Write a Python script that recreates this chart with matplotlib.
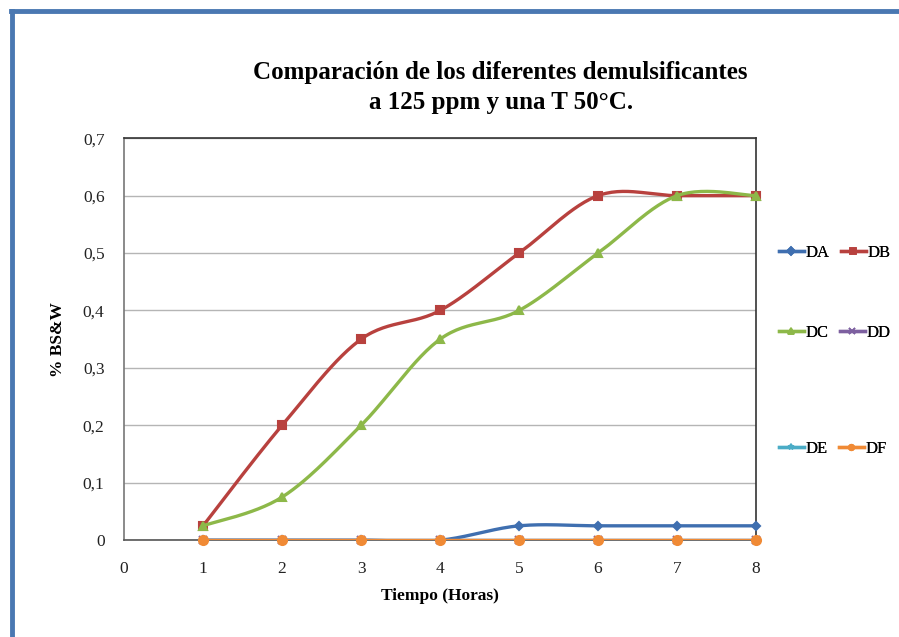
import numpy as np
import matplotlib
matplotlib.use("Agg")
import matplotlib.pyplot as plt
from matplotlib.lines import Line2D

# datos
horas = [1, 2, 3, 4, 5, 6, 7, 8]
DA = [0, 0, 0, 0, 0.025, 0.025, 0.025, 0.025]
DB = [0.025, 0.2, 0.35, 0.4, 0.5, 0.6, 0.6, 0.6]
DC = [0.025, 0.075, 0.2, 0.35, 0.4, 0.5, 0.6, 0.6]
DD = [0, 0, 0, 0, 0, 0, 0, 0]
DE = [0, 0, 0, 0, 0, 0, 0, 0]
DF = [0, 0, 0, 0, 0, 0, 0, 0]
nombres = ['DA', 'DB', 'DC', 'DD', 'DE', 'DF']
colores = ['#3F6FB0', '#B8413E', '#8DB849', '#7D60A0', '#4BACC6', '#F08A35']
marcadores = ['D', 's', '^', 'x', '*', 'o']
tam_marc = [4.5, 6, 6, 6, 6, 6.5]


def suavizar(x, y, n=30):
    # curva tipo Excel (Catmull-Rom con beziers)
    x = np.asarray(x, float); y = np.asarray(y, float)
    px = np.concatenate([[x[0]], x, [x[-1]]])
    py = np.concatenate([[y[0]], y, [y[-1]]])
    t = np.linspace(0, 1, n)[:, None]
    xs, ys = [], []
    for i in range(1, len(px) - 2):
        p0 = np.array([px[i], py[i]])
        p3 = np.array([px[i + 1], py[i + 1]])
        p1 = p0 + (np.array([px[i + 1], py[i + 1]]) - np.array([px[i - 1], py[i - 1]])) / 6
        p2 = p3 - (np.array([px[i + 2], py[i + 2]]) - np.array([px[i], py[i]])) / 6
        b = (1 - t) ** 3 * p0 + 3 * (1 - t) ** 2 * t * p1 + 3 * (1 - t) * t ** 2 * p2 + t ** 3 * p3
        xs.append(b[:, 0]); ys.append(b[:, 1])
    return np.concatenate(xs), np.concatenate(ys)


plt.rcParams['font.family'] = ['Liberation Serif', 'DejaVu Serif']

fig = plt.figure(figsize=(8.99, 6.37), dpi=100)
ax = fig.add_axes([0.138, 0.152, 0.703, 0.631])

series = [DA, DB, DC, DD, DE, DF]
handles = []
for k, (nom, ys, c, m, ms) in enumerate(zip(nombres, series, colores, marcadores, tam_marc)):
    sx, sy = suavizar(horas, ys)
    ax.plot(sx, sy, color=c, lw=2.4, solid_capstyle='round', zorder=3 + k)
    ax.plot(horas, ys, ls='none', marker=m, color=c, ms=ms, mew=1.5, zorder=3 + k, clip_on=False)
    handles.append(Line2D([], [], color=c, lw=2.4, marker=m, ms=4, mew=1.2))

ax.set_xlim(0, 8)
ax.set_ylim(0, 0.7)
ax.set_xticks(range(0, 9))
ax.set_yticks(np.arange(0, 0.71, 0.1))
ax.set_yticklabels(['0'] + [f'{v:.1f}'.replace('.', ',') for v in np.arange(0.1, 0.71, 0.1)])
ax.tick_params(length=0, labelsize=12.5, colors='#222222')
ax.tick_params(axis='x', pad=15)
ax.tick_params(axis='y', pad=14)
ax.grid(axis='y', color='#b5b5b5', lw=1)
ax.set_axisbelow(True)
for s in ax.spines.values():
    s.set_color('#333333')
    s.set_linewidth(1.2)
ax.spines['left'].set_color('#777777')
ax.spines['bottom'].set_color('#555555')

ax.set_xlabel('Tiempo (Horas)', fontsize=12.5, fontweight='bold', labelpad=8)
ax.set_ylabel('% BS&W', fontsize=12.5, fontweight='bold', labelpad=12)

fig.text(0.557, 0.863, 'Comparación de los diferentes demulsificantes\na 125 ppm y una T 50°C.',
         ha='center', va='center', fontsize=18, fontweight='bold', linespacing=1.4)

# leyenda en tres filas
filas = [(0, 253), (2, 333), (4, 449)]
for i, ypx in filas:
    lg = fig.legend(handles[i:i + 2], nombres[i:i + 2], ncol=2, frameon=False,
                    loc='center left', bbox_to_anchor=(0.866, 1 - ypx / 637),
                    borderaxespad=0, borderpad=0,
                    fontsize=12, handlelength=1.5, handletextpad=0.1, columnspacing=0.7)
    fig.add_artist(lg)

# marco de la ventana
fig.add_artist(Line2D([0.012, 1.0], [0.982, 0.982], color='#4A78B2', lw=3.5, transform=fig.transFigure))
fig.add_artist(Line2D([0.013, 0.013], [0.0, 0.982], color='#4A78B2', lw=3.5, transform=fig.transFigure))

fig.savefig('out.png', dpi=100)
